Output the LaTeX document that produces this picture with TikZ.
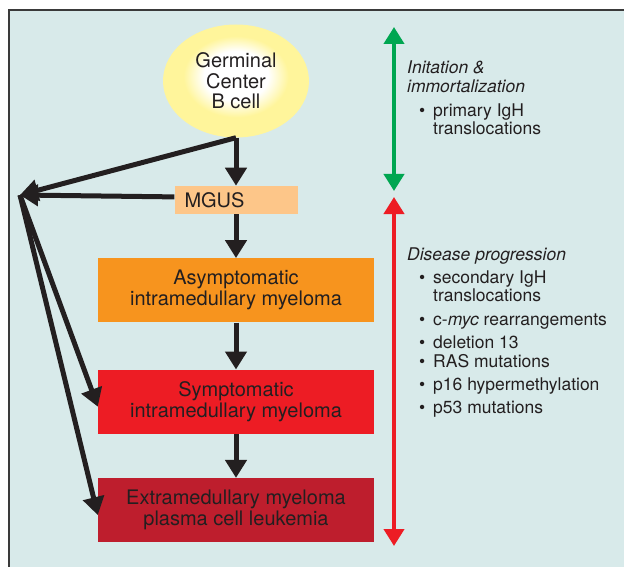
\documentclass[tikz,border=0pt]{standalone}
\usepackage{fontspec}
\setmainfont{TeX Gyre Heros}
\usetikzlibrary{shapes.geometric, positioning, arrows.meta}
\usepackage{xcolor}

\definecolor{ink}{HTML}{231F20}
\definecolor{panel}{HTML}{D8EAEA}
\definecolor{frameline}{HTML}{3A3A3A}
\definecolor{gcyellow}{HTML}{FFF59B}
\definecolor{mgusfill}{HTML}{FDC689}
\definecolor{asymfill}{HTML}{F7941E}
\definecolor{symfill}{HTML}{ED1C24}
\definecolor{extfill}{HTML}{BE1E2D}
\definecolor{phasegreen}{HTML}{00A651}
\definecolor{phasered}{HTML}{ED1C24}

\pgfdeclareradialshading{gcglow}{\pgfpoint{0bp}{3bp}}{color(0bp)=(white); color(11bp)=(white); color(18bp)=(gcyellow); color(50bp)=(gcyellow)}

\begin{document}
\begin{tikzpicture}[
                x=1pt, y=-1pt,
                cell/.style={ellipse, shading=gcglow, minimum width=146pt, minimum height=113pt, inner sep=0pt, align=center, text=ink, font=\fontsize{20}{20.5}\selectfont},
                stage/.style={rectangle, minimum width=276pt, minimum height=64pt, inner sep=0pt, align=center, text=ink, font=\fontsize{20}{21}\selectfont},
                flow/.style={draw=ink, line width=5pt, -{Triangle[length=18pt, width=21pt]}},
                phase/.style={line width=4pt, {Triangle[length=17pt, width=20pt]}-{Triangle[length=17pt, width=20pt]}},
                note/.style={anchor=base west, inner sep=0pt, text=ink, font=\fontsize{17.5}{18}\selectfont},
                item/.style={note}
            ]
                \useasboundingbox (0,0) rectangle (624,567);
                \fill[white] (0,0) rectangle (624,567);
                \fill[panel] (9,10) rectangle (624,567);
                \draw[frameline, line width=2pt] (9,567) -- (9,10) -- (624,10);

                % Subgraph STAGES
                \node[cell] (gc) at (236,81) {Germinal \\ Center \\ B cell};
                \node[rectangle, fill=mgusfill, minimum width=123pt, minimum height=28pt, text width=103pt, inner xsep=10pt, inner ysep=0pt, align=left, text=ink, font=\fontsize{20}{21}\selectfont, below=48pt of gc] (mgus) {MGUS};
                \node[stage, fill=asymfill, below=44pt of mgus] (asym) {Asymptomatic \\ intramedullary myeloma};
                \node[stage, fill=symfill, below=47pt of asym] (sym) {Symptomatic \\ intramedullary myeloma};
                \node[stage, fill=extfill, below=44pt of sym] (ext) {Extramedullary myeloma \\ plasma cell leukemia};
                \coordinate (hub) at (20,195);

                \path[flow] (gc) -- (mgus);
                \path[flow] (mgus) -- (asym);
                \path[flow] (asym) -- (sym);
                \path[flow] (sym) -- (ext);
                \path[flow] (gc.south) -- (hub);
                \path[flow] ([yshift=3pt]mgus.west) -- (hub);
                \path[flow] (hub) -- ([yshift=-5pt]sym.west);
                \path[flow] (hub) -- ([yshift=-5pt]ext.west);

                % Subgraph PHASES
                \coordinate (gtop) at (394,27);
                \coordinate (gbot) at (394,191);
                \coordinate (rtop) at (394,197);
                \coordinate (rbot) at (394,546);
                \draw[phase, draw=phasegreen] (gtop) -- (gbot);
                \draw[phase, draw=phasered] (rtop) -- (rbot);

                \node[note, font=\fontsize{17.5}{18}\selectfont\itshape] (initA) at (407,74) {Initation \&};
                \node[note, font=\fontsize{17.5}{18}\selectfont\itshape] (initB) at (407,93) {immortalization};
                \node[item] (prim1) at (419,117) {\makebox[14pt][l]{\textbullet}primary IgH};
                \node[note] (prim2) at (433,135) {translocations};

                \node[note, font=\fontsize{17.5}{18}\selectfont\itshape] (prog) at (407,260) {Disease progression};
                \node[item] (sec1) at (419,283) {\makebox[14pt][l]{\textbullet}secondary IgH};
                \node[note] (sec2) at (433,301) {translocations};
                \node[item] (myc) at (419,325) {\makebox[14pt][l]{\textbullet}c-\textit{myc} rearrangements};
                \node[item] (del) at (419,348) {\makebox[14pt][l]{\textbullet}deletion 13};
                \node[item] (ras) at (419,367) {\makebox[14pt][l]{\textbullet}RAS mutations};
                \node[item] (hyp) at (419,390) {\makebox[14pt][l]{\textbullet}p16 hypermethylation};
                \node[item] (tp53) at (419,413) {\makebox[14pt][l]{\textbullet}p53 mutations};
            \end{tikzpicture}
\end{document}
